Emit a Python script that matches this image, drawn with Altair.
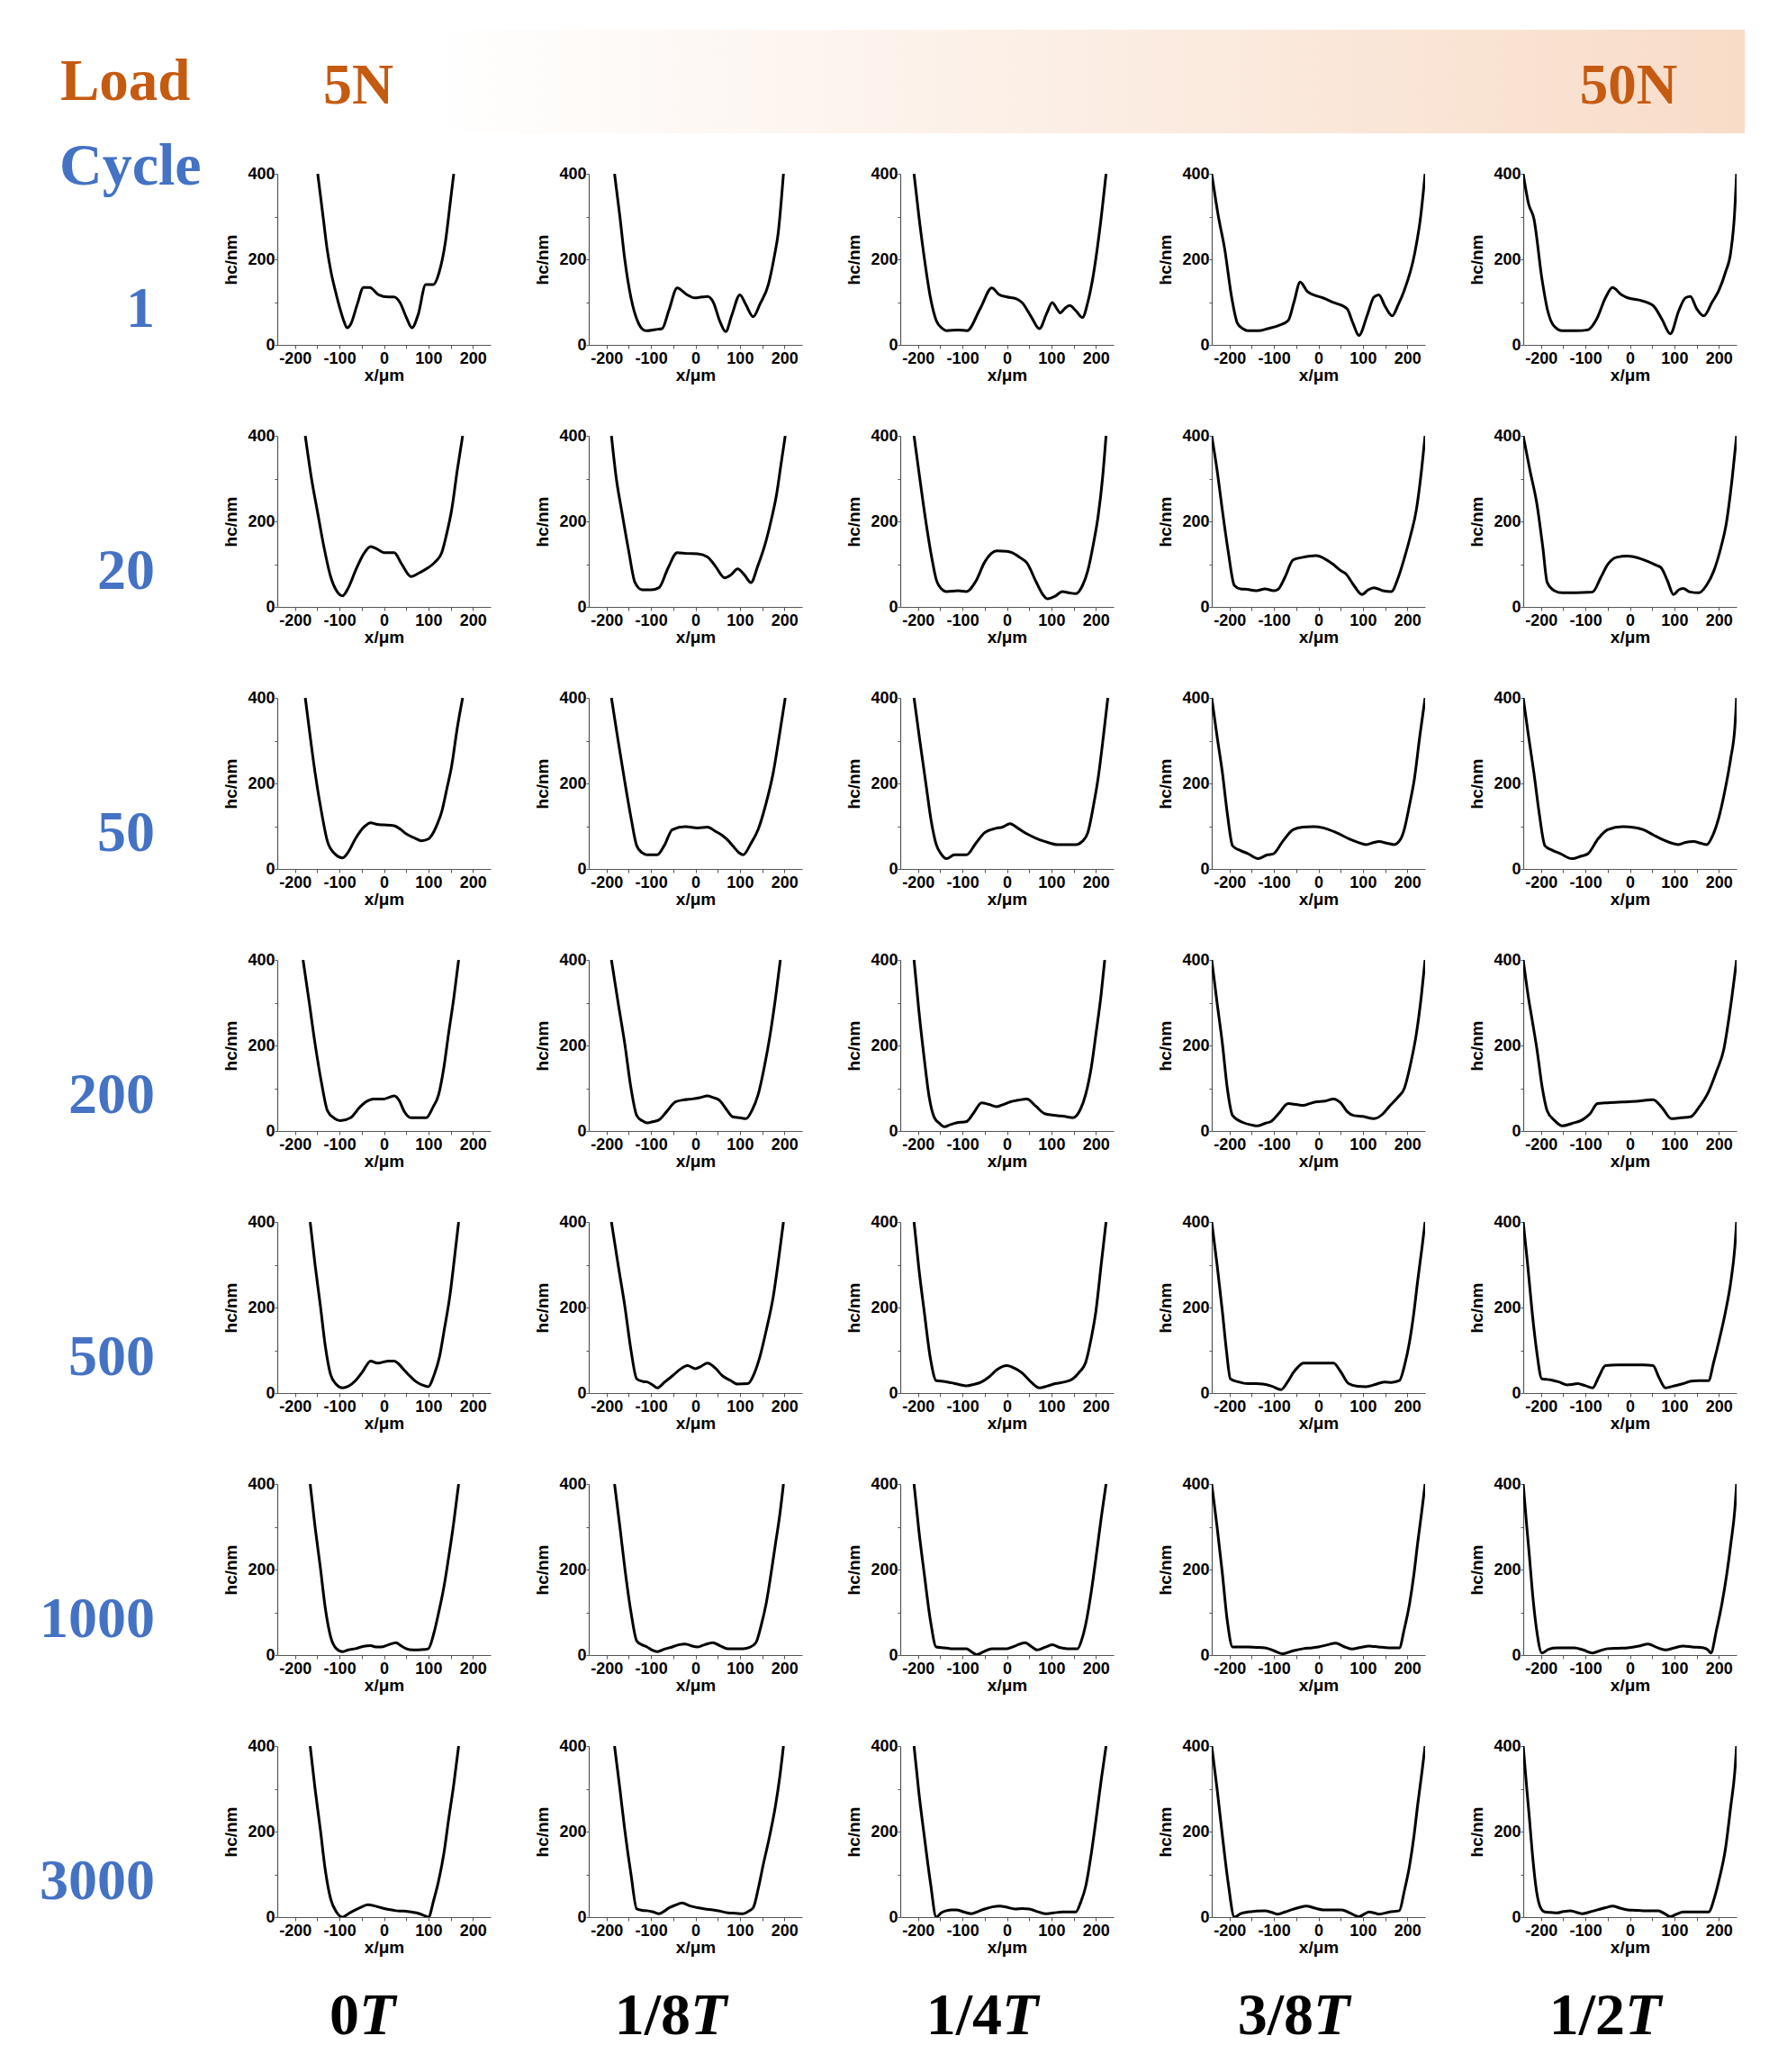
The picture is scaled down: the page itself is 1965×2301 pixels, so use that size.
import altair as alt
import pandas as pd

CYCLES = ["1", "20", "50", "200", "500", "1000", "3000"]
PHASES = ["0T", "1/8T", "1/4T", "3/8T", "1/2T"]
PHASE_NUM = ["0", "1/8", "1/4", "3/8", "1/2"]
PHASE_UNIT = "T"

# ---- profiles (x in um, hc in nm) ----
C1_T0 = [(-149,400),(-137,300),(-128,225),(-119,170),(-109,125),(-99,85),(-90,55),(-83,40),(-75,48),(-60,95),(-46,134),(-32,134),(-12,117),(9,112),(22,112),(36,99),(50,65),(63,40),(77,71),(94,141),(111,141),(124,169),(138,239),(150,340),(157,400)]
C1_T1 = [(-182,400),(-170,300),(-159,200),(-145,110),(-130,55),(-118,36),(-109,33),(-90,36),(-75,38),(-60,80),(-41,133),(-20,118),(-2,110),(15,112),(27,113),(40,100),(55,55),(68,31),(82,70),(100,117),(113,95),(130,66),(145,95),(164,141),(178,210),(186,260),(198,400)]
C1_T2 = [(-209,400),(-198,300),(-186,204),(-172,110),(-159,57),(-145,38),(-136,33),(-110,35),(-90,33),(-60,85),(-34,133),(-18,118),(0,112),(20,108),(34,99),(55,65),(73,38),(90,75),(102,99),(112,85),(120,75),(130,85),(141,92),(155,80),(170,64),(182,100),(193,155),(210,280),(223,400)]
C1_T3 = [(-240,400),(-225,300),(-211,225),(-195,110),(-182,50),(-170,38),(-159,33),(-135,33),(-114,38),(-90,45),(-68,57),(-55,100),(-41,147),(-25,125),(-11,117),(10,110),(34,99),(64,85),(78,50),(91,22),(110,70),(125,112),(136,117),(150,90),(166,68),(180,95),(193,127),(216,211),(230,300),(240,400)]
C1_T4 = [(-240,400),(-228,330),(-216,295),(-198,155),(-185,80),(-170,43),(-152,33),(-120,33),(-95,35),(-75,60),(-55,110),(-39,134),(-20,118),(-5,110),(20,105),(52,92),(72,60),(91,26),(110,80),(125,110),(136,113),(150,85),(166,68),(185,100),(200,127),(215,170),(227,218),(235,300),(240,400)]

C20_T0 = [(-177,400),(-163,300),(-150,225),(-135,140),(-120,71),(-105,35),(-93,26),(-80,45),(-64,85),(-45,125),(-30,141),(-15,135),(0,127),(23,127),(40,100),(61,71),(80,80),(100,92),(115,105),(130,127),(142,175),(152,225),(165,320),(177,400)]
C20_T1 = [(-189,400),(-178,300),(-166,225),(-150,130),(-136,57),(-120,40),(-100,40),(-82,45),(-62,90),(-41,127),(-20,125),(5,124),(27,117),(45,95),(66,68),(80,75),(95,89),(110,75),(125,57),(140,95),(159,155),(172,210),(182,260),(192,330),(202,400)]
C20_T2 = [(-209,400),(-196,300),(-182,197),(-170,120),(-159,64),(-145,40),(-136,36),(-110,38),(-91,36),(-70,60),(-50,105),(-23,131),(0,130),(11,127),(30,115),(45,103),(65,60),(80,30),(91,19),(108,25),(125,36),(140,33),(155,31),(170,50),(182,85),(195,150),(205,211),(215,300),(223,400)]
C20_T3 = [(-240,400),(-228,320),(-216,225),(-203,130),(-189,50),(-175,42),(-160,41),(-140,38),(-120,42),(-100,38),(-91,41),(-75,70),(-57,110),(-35,116),(-5,120),(15,112),(34,99),(50,85),(61,78),(80,50),(98,29),(112,40),(125,45),(145,38),(164,36),(180,70),(193,113),(208,170),(220,225),(232,320),(240,400)]
C20_T4 = [(-240,400),(-225,320),(-209,239),(-196,140),(-186,57),(-170,38),(-152,33),(-120,33),(-95,34),(-84,35),(-65,70),(-50,99),(-30,116),(-5,119),(20,114),(41,106),(60,97),(70,92),(85,60),(98,29),(110,40),(120,43),(135,35),(155,33),(172,50),(189,85),(205,140),(216,190),(230,300),(240,400)]

C50_T0 = [(-177,400),(-166,310),(-155,225),(-140,130),(-127,64),(-110,35),(-93,26),(-80,40),(-64,71),(-45,98),(-30,108),(-15,104),(0,103),(23,101),(38,92),(50,82),(70,72),(84,66),(100,70),(107,78),(120,105),(130,134),(142,190),(152,239),(165,330),(177,400)]
C50_T1 = [(-189,400),(-174,300),(-159,204),(-145,120),(-132,54),(-120,38),(-109,33),(-86,33),(-70,55),(-52,92),(-23,99),(5,96),(27,98),(45,88),(61,78),(75,65),(84,54),(98,38),(107,33),(125,60),(141,92),(158,150),(175,225),(190,320),(202,400)]
C50_T2 = [(-209,400),(-196,300),(-182,197),(-170,110),(-159,57),(-148,35),(-136,24),(-118,33),(-91,33),(-70,60),(-50,85),(-25,95),(-10,98),(7,106),(25,95),(45,82),(65,72),(86,64),(114,57),(140,57),(155,57),(170,65),(182,85),(195,150),(205,211),(217,310),(227,400)]
C50_T3 = [(-240,400),(-228,310),(-216,225),(-205,130),(-193,54),(-175,43),(-159,36),(-136,24),(-115,33),(-102,35),(-80,65),(-57,92),(-35,98),(-11,99),(11,96),(40,85),(68,71),(90,62),(107,57),(125,62),(136,64),(155,60),(170,57),(185,70),(193,92),(205,150),(216,211),(228,310),(240,400)]
C50_T4 = [(-240,400),(-228,310),(-216,225),(-204,130),(-191,54),(-175,44),(-157,36),(-130,24),(-110,30),(-95,35),(-72,70),(-50,92),(-16,99),(10,97),(30,92),(52,80),(75,68),(109,57),(125,62),(143,64),(160,60),(173,57),(187,80),(200,120),(215,190),(227,260),(236,330),(240,400)]

C200_T0 = [(-182,400),(-168,300),(-155,204),(-140,110),(-127,47),(-112,30),(-98,24),(-75,31),(-55,55),(-41,68),(-23,75),(0,75),(23,82),(35,70),(45,47),(61,31),(80,31),(95,31),(110,55),(123,85),(135,150),(145,225),(157,310),(168,400)]
C200_T1 = [(-189,400),(-174,300),(-159,204),(-145,100),(-132,36),(-120,24),(-109,19),(-95,22),(-82,26),(-65,45),(-45,68),(-25,73),(-7,75),(10,78),(27,82),(40,78),(55,71),(70,50),(84,33),(100,31),(114,29),(128,50),(141,85),(155,150),(168,225),(180,310),(191,400)]
C200_T2 = [(-209,400),(-198,280),(-186,169),(-175,80),(-164,33),(-152,18),(-141,10),(-127,15),(-114,19),(-91,22),(-75,42),(-57,66),(-40,62),(-23,57),(-8,62),(7,68),(25,72),(45,75),(65,58),(86,40),(114,36),(130,34),(148,31),(165,50),(177,85),(190,150),(200,225),(212,320),(220,400)]
C200_T3 = [(-240,400),(-228,300),(-216,204),(-205,100),(-193,36),(-170,20),(-150,14),(-136,12),(-120,18),(-107,22),(-90,40),(-68,64),(-50,62),(-34,60),(-20,64),(-7,68),(15,70),(34,75),(50,66),(65,45),(80,36),(100,34),(125,29),(145,40),(159,57),(178,78),(193,99),(208,160),(220,225),(232,320),(240,400)]
C200_T4 = [(-240,400),(-228,310),(-220,260),(-209,190),(-197,100),(-186,47),(-170,25),(-152,12),(-130,18),(-107,26),(-90,40),(-73,64),(-50,66),(-16,68),(20,70),(52,73),(72,55),(93,29),(115,31),(136,33),(155,55),(177,92),(195,140),(211,190),(225,280),(240,400)]

C500_T0 = [(-166,400),(-155,300),(-143,204),(-132,110),(-120,43),(-107,20),(-93,12),(-80,16),(-64,29),(-48,50),(-30,75),(-15,70),(-7,71),(10,75),(23,75),(35,66),(45,54),(60,38),(73,26),(88,18),(100,15),(112,40),(125,85),(136,150),(148,225),(158,310),(168,400)]
C500_T1 = [(-189,400),(-174,300),(-159,204),(-145,100),(-132,33),(-118,27),(-109,26),(-95,18),(-86,12),(-70,25),(-52,40),(-35,55),(-18,64),(0,57),(12,62),(27,70),(45,58),(61,40),(78,30),(95,21),(118,22),(132,45),(145,85),(160,150),(175,225),(188,320),(198,400)]
C500_T2 = [(-209,400),(-198,290),(-186,190),(-172,80),(-159,29),(-140,27),(-125,24),(-108,20),(-91,17),(-75,20),(-57,26),(-40,38),(-23,54),(0,64),(17,58),(34,47),(55,25),(73,12),(90,16),(109,22),(130,26),(148,33),(162,48),(177,71),(190,130),(200,190),(212,300),(223,400)]
C500_T3 = [(-240,400),(-228,300),(-216,190),(-207,100),(-198,33),(-180,26),(-159,22),(-140,22),(-125,21),(-105,16),(-84,8),(-70,25),(-57,47),(-45,62),(-34,70),(-10,70),(11,70),(34,70),(50,50),(68,22),(88,16),(107,15),(128,20),(148,26),(165,25),(182,29),(195,70),(205,120),(215,190),(223,260),(233,340),(240,400)]
C500_T4 = [(-240,400),(-230,300),(-220,190),(-210,100),(-198,33),(-188,32),(-180,31),(-160,26),(-141,19),(-130,20),(-118,22),(-100,17),(-84,12),(-70,38),(-55,64),(-27,66),(0,66),(30,66),(52,64),(66,35),(80,12),(100,17),(120,22),(138,28),(155,29),(177,29),(188,70),(200,120),(215,190),(227,260),(236,340),(240,400)]

C1000_T0 = [(-166,400),(-155,300),(-143,204),(-132,110),(-120,43),(-107,15),(-93,8),(-80,12),(-64,15),(-48,20),(-30,22),(-18,19),(-7,19),(10,24),(27,29),(38,22),(50,15),(65,12),(77,12),(90,13),(100,15),(112,50),(123,99),(135,160),(145,225),(157,310),(168,400)]
C1000_T1 = [(-182,400),(-170,300),(-159,204),(-145,100),(-132,33),(-120,24),(-109,19),(-98,12),(-86,8),(-70,14),(-52,19),(-38,24),(-23,26),(-10,22),(5,19),(20,24),(39,29),(55,22),(73,15),(90,15),(107,15),(122,18),(136,29),(148,70),(159,120),(170,190),(180,260),(190,330),(198,400)]
C1000_T2 = [(-209,400),(-198,290),(-186,190),(-172,80),(-159,19),(-140,17),(-125,15),(-108,15),(-91,15),(-80,8),(-68,1),(-52,8),(-34,15),(-15,15),(0,15),(20,22),(41,29),(55,20),(68,12),(85,18),(102,24),(118,18),(136,15),(150,15),(159,15),(168,35),(177,71),(190,150),(200,225),(212,320),(223,400)]
C1000_T3 = [(-240,400),(-228,300),(-216,190),(-205,80),(-193,19),(-175,19),(-159,19),(-140,18),(-120,17),(-100,10),(-80,3),(-57,10),(-34,15),(-15,17),(0,19),(20,24),(39,28),(57,20),(75,14),(95,18),(114,21),(135,19),(159,17),(172,17),(182,17),(193,60),(205,120),(215,190),(223,260),(233,340),(240,400)]
C1000_T4 = [(-240,400),(-232,300),(-226,230),(-220,155),(-210,60),(-198,5),(-182,14),(-164,17),(-145,17),(-125,17),(-105,12),(-84,5),(-68,10),(-50,15),(-27,16),(-5,17),(20,21),(41,26),(60,18),(80,12),(100,17),(120,21),(140,19),(166,17),(176,12),(182,5),(195,60),(207,120),(218,190),(227,260),(236,340),(240,400)]

C3000_T0 = [(-166,400),(-155,300),(-143,204),(-132,110),(-120,43),(-107,12),(-93,0),(-80,8),(-64,17),(-50,24),(-36,29),(-20,26),(-7,22),(10,18),(27,15),(45,14),(61,12),(80,8),(92,3),(100,0),(112,40),(123,85),(135,150),(145,225),(157,310),(168,400)]
C3000_T1 = [(-182,400),(-170,300),(-159,204),(-145,100),(-132,19),(-120,16),(-109,15),(-95,12),(-82,8),(-70,14),(-59,22),(-45,28),(-30,33),(-12,26),(5,22),(22,19),(39,17),(55,14),(73,10),(90,9),(107,8),(120,14),(130,22),(142,70),(152,120),(167,190),(180,260),(190,330),(198,400)]
C3000_T2 = [(-209,400),(-198,290),(-186,190),(-172,80),(-159,0),(-148,10),(-136,15),(-125,17),(-114,17),(-97,12),(-80,8),(-65,13),(-50,19),(-33,24),(-16,26),(0,23),(18,19),(34,20),(50,19),(68,13),(86,8),(105,10),(125,12),(140,12),(155,12),(166,35),(177,71),(190,150),(200,225),(212,320),(223,400)]
C3000_T3 = [(-240,400),(-228,300),(-216,190),(-203,80),(-189,0),(-175,8),(-159,12),(-140,14),(-120,15),(-105,11),(-91,7),(-75,12),(-61,17),(-45,22),(-27,26),(-8,21),(11,17),(30,17),(52,17),(72,9),(91,1),(103,7),(114,12),(125,10),(136,7),(160,12),(182,15),(193,60),(205,120),(215,190),(223,260),(233,340),(240,400)]
C3000_T4 = [(-240,400),(-232,300),(-226,230),(-220,155),(-210,60),(-200,20),(-191,12),(-178,11),(-164,10),(-150,13),(-134,15),(-120,11),(-107,8),(-90,12),(-73,17),(-55,22),(-39,26),(-22,21),(-5,17),(12,16),(30,15),(48,15),(64,15),(78,8),(91,1),(105,7),(120,12),(150,12),(177,12),(190,45),(200,85),(215,160),(227,260),(236,340),(240,400)]

GRID = [
    [C1_T0, C1_T1, C1_T2, C1_T3, C1_T4],
    [C20_T0, C20_T1, C20_T2, C20_T3, C20_T4],
    [C50_T0, C50_T1, C50_T2, C50_T3, C50_T4],
    [C200_T0, C200_T1, C200_T2, C200_T3, C200_T4],
    [C500_T0, C500_T1, C500_T2, C500_T3, C500_T4],
    [C1000_T0, C1000_T1, C1000_T2, C1000_T3, C1000_T4],
    [C3000_T0, C3000_T1, C3000_T2, C3000_T3, C3000_T4],
]

# banner texts
LOAD_TXT = "Load"
CYCLE_TXT = "Cycle"
LOW_LOAD_TXT = "5N"
HIGH_LOAD_TXT = "50N"

ORANGE = "#C55A11"
BLUE = "#4472C4"
AX_FONT = "Liberation Sans"
SERIF = "Liberation Serif"
W, H = 237, 190

rows = []
for ci, c in enumerate(CYCLES):
    for pi, p in enumerate(PHASES):
        for i, (x, h) in enumerate(GRID[ci][pi]):
            rows.append({"kind": "line", "cycle": c, "phase": p, "i": i, "x": x, "h": h, "label": ""})
for c in CYCLES:
    rows.append({"kind": "rowlab", "cycle": c, "phase": PHASES[0], "label": c})
for p, num in zip(PHASES, PHASE_NUM):
    rows.append({"kind": "collab", "cycle": CYCLES[-1], "phase": p, "label": num, "unit": PHASE_UNIT})
for k, t in [("load", LOAD_TXT), ("cyc", CYCLE_TXT), ("n5", LOW_LOAD_TXT), ("n50", HIGH_LOAD_TXT), ("bar", "")]:
    rows.append({"kind": k, "cycle": CYCLES[0], "phase": PHASES[0], "label": t})
df = pd.DataFrame(rows)

def axis_common(**kw):
    base = dict(labelOverlap=False, labelFlush=False, grid=False,
                domainColor="#555", tickColor="#555", domainWidth=1.2,
                labelFont=AX_FONT, labelFontSize=18, labelFontWeight="bold",
                labelColor="black", titleFont=AX_FONT, titleFontSize=19,
                titleFontWeight="bold", titleColor="black")
    base.update(kw)
    return alt.Axis(**base)

line = alt.Chart().transform_filter(alt.datum.kind == "line").mark_line(
    color="black", strokeWidth=3, interpolate="monotone", clip=True
).encode(
    x=alt.X("x:Q", scale=alt.Scale(domain=[-240, 240], nice=False, zero=False),
            axis=axis_common(values=list(range(-200, 201, 50)),
                             labelExpr="datum.value % 100 === 0 ? (datum.value < 0 ? '-' + (-datum.value) : '' + datum.value) : ''",
                             title="x/μm", tickSize=4, labelPadding=2, titlePadding=0)),
    y=alt.Y("h:Q", scale=alt.Scale(domain=[0, 400], nice=False),
            axis=axis_common(values=[0, 100, 200, 300, 400],
                             labelExpr="datum.value % 200 === 0 ? datum.label : ''",
                             title="hc/nm", tickSize=3, labelPadding=0, titlePadding=8)),
    order="i:Q",
)

bar = alt.Chart().transform_filter(alt.datum.kind == "bar").mark_rect(
    color=alt.LinearGradient(
        gradient="linear",
        stops=[alt.GradientStop(color="#ffffff", offset=0),
               alt.GradientStop(color="#F8DCC8", offset=1)],
        x1=0, x2=1, y1=0, y2=0)
).encode(x=alt.value(171), x2=alt.value(1630), y=alt.value(-160), y2=alt.value(-45))

def banner_text(kind, px, py, size, color, align):
    return alt.Chart().transform_filter(alt.datum.kind == kind).mark_text(
        align=align, baseline="alphabetic", font=SERIF, fontWeight="bold",
        fontSize=size, color=color
    ).encode(text="label:N", x=alt.value(px), y=alt.value(py))

t_load = banner_text("load", -241, -82, 65, ORANGE, "left")
t_5n = banner_text("n5", 90, -78, 64, ORANGE, "center")
t_50n = banner_text("n50", 1501, -78, 63, ORANGE, "center")
t_cyc = banner_text("cyc", -242, 12, 66, BLUE, "left")

rowlab = alt.Chart().transform_filter(alt.datum.kind == "rowlab").mark_text(
    align="right", baseline="alphabetic", font=SERIF, fontWeight="bold",
    fontSize=64, color=BLUE
).encode(text="label:N", x=alt.value(-136), y=alt.value(170))

def col_label(first, split):
    cond = (alt.datum.phase == PHASES[0]) if first else (alt.datum.phase != PHASES[0])
    base = alt.Chart().transform_filter(alt.datum.kind == "collab").transform_filter(cond)
    num = base.mark_text(align="right", baseline="alphabetic", font=SERIF,
                         fontWeight="bold", fontSize=66, color="black").encode(
        text="label:N", x=alt.value(split), y=alt.value(320))
    unit = base.mark_text(align="left", baseline="alphabetic", font=SERIF,
                          fontWeight="bold", fontStyle="italic", fontSize=66,
                          color="black").encode(
        text="unit:N", x=alt.value(split), y=alt.value(320))
    return [num, unit]

col_layers = col_label(True, 91) + col_label(False, 113)

cell = alt.layer(line, bar, t_load, t_5n, t_50n, t_cyc, rowlab, *col_layers, data=df).properties(
    width=W, height=H)

chart = cell.facet(
    row=alt.Row("cycle:N", sort=CYCLES, title=None, header=alt.Header(labels=False)),
    column=alt.Column("phase:N", sort=PHASES, title=None, header=alt.Header(labels=False)),
    spacing={"row": 101, "column": 109},
    bounds="flush",
).resolve_axis(
    x="independent", y="independent"
).properties(
    padding={"left": 36, "top": 25, "right": 5, "bottom": 5}
).configure_view(strokeWidth=0)

chart.save("out.html", embed_options={"renderer": "svg", "actions": False})
